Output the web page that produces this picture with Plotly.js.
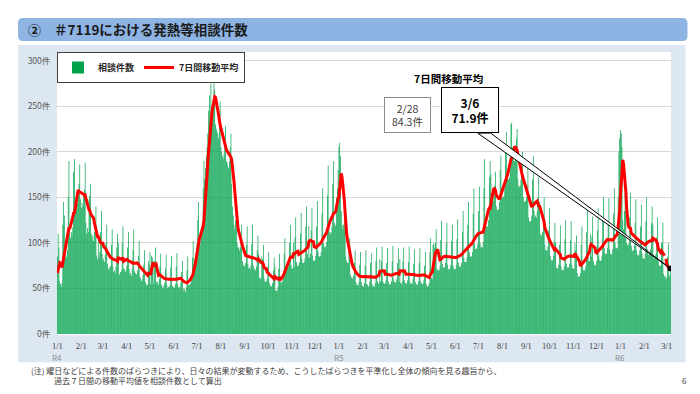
<!DOCTYPE html>
<html>
<head>
<meta charset="utf-8">
<script src="https://cdn.plot.ly/plotly-3.0.1.min.js"></script>
<style>
html,body{margin:0;padding:0;background:#ffffff;}
#chart{width:700px;height:394px;}
</style>
</head>
<body>
<div id="chart"></div>
<script>
// ---- data (daily consultation counts) ----
const startDate = '2022-01-01';
// 2021-12-26 .. 2021-12-31 (used only for the 7-day moving average)
const prevDays = [78,55,52,60,66,73];

const counts2022 = [
85,110,95,58,55,52,56,
120,145,130,85,88,84,92,
150,190,118,105,112,108,117,
178,192,150,140,147,143,158,
165,186,148,138,144,140,152,
158,188,122,110,116,112,148,
152,165,110,104,108,102,112,
120,140,86,82,108,84,90,
112,135,88,80,83,79,87,
100,120,77,72,70,73,75,
98,115,74,68,70,67,74,
95,110,100,66,65,68,70,
100,118,72,71,68,70,75,
95,112,71,65,67,64,72,
92,115,69,67,65,66,70,
86,102,63,61,58,60,65,
76,92,57,55,53,54,80,
76,90,55,86,84,80,55,
80,95,58,55,57,54,60,
74,88,54,51,53,50,56,
72,87,54,50,52,51,54,
73,86,53,52,50,51,55,
74,89,55,51,52,50,56,
68,80,50,47,49,46,51,
70,85,54,53,55,56,60,
84,102,76,82,86,92,100,
125,145,100,98,104,108,115,
160,190,170,182,195,205,220,
245,262,235,275,240,250,255,
300,268,230,225,222,220,215,
240,255,205,200,195,192,198,
215,228,190,188,185,182,190,
205,220,165,140,130,120,115,
125,140,100,95,95,92,95,
100,120,80,76,74,75,78,
98,118,77,72,73,71,76,
99,120,75,70,72,70,74,
92,108,88,62,60,62,85,
82,98,61,58,57,58,61,
75,90,56,53,52,53,56,
70,84,74,48,47,48,52,
72,88,58,55,57,58,62,
88,105,75,72,73,74,76,
100,120,76,72,72,100,74,
106,128,79,75,74,76,79,
110,133,83,78,78,79,83,
118,140,88,84,118,84,88,
114,138,86,80,81,80,86,
118,146,90,85,85,86,90,
132,160,100,96,95,96,101,
152,185,118,112,110,112,118,
165,190,122,118,120,150,160,
180];

const counts2023 = [
205,210,195,135,120,115,
120,135,115,85,80,78,78,
90,105,65,62,62,60,64,
78,92,57,54,54,53,57,
76,90,57,53,53,52,56,
75,92,55,54,52,53,58,
78,88,55,52,53,52,56,
80,95,58,55,56,82,58,
80,96,58,56,55,56,59,
78,94,58,55,54,55,58,
80,97,60,57,57,56,60,
78,94,58,82,56,55,58,
80,95,59,56,55,56,59,
79,96,58,55,56,55,60,
77,93,57,54,55,54,58,
78,94,58,56,55,55,59,
75,90,55,53,52,53,56,
90,105,62,60,98,100,95,
100,115,72,70,70,70,74,
103,124,77,73,73,73,78,
100,122,76,71,71,72,76,
102,120,75,72,71,71,76,
104,126,78,74,74,74,78,
112,135,84,79,79,79,84,
120,145,90,85,85,85,90,
132,160,99,93,94,93,99,
135,162,100,95,96,95,101,
160,192,125,118,118,118,125,
172,190,175,145,144,146,152,
163,178,140,136,136,137,145,
180,196,155,150,150,152,160,
204,222,176,170,170,172,200,
230,232,205,195,190,190,192,
215,225,170,162,162,163,170,
185,200,150,145,145,146,150,
162,185,128,124,123,124,130,
170,195,135,128,130,128,135,
150,172,145,110,108,108,112,
130,150,98,92,92,92,96,
114,138,86,81,81,81,86,
102,122,100,73,72,72,76,
98,119,74,70,70,70,74,
104,125,77,73,73,73,77,
103,124,76,72,72,72,100,
92,108,67,63,63,63,67,
98,118,74,70,70,70,74,
112,136,85,80,80,110,85,
107,129,80,76,75,76,80,
114,138,86,81,80,81,86,
125,150,94,88,88,88,94,
124,149,93,88,87,88,93,
132,160,100,95,94,94,150,
200,215];

const counts2024 = [
224,220,205,125,115,
135,155,135,100,98,97,100,
128,155,97,92,91,92,97,
122,148,92,87,86,87,92,
118,142,88,83,83,83,88,
124,150,93,87,87,88,93,
122,140,120,84,83,84,88,
106,128,80,75,75,75,100,
100,122,66,63,64,60,62,
85,100,65,63,68];

const monthTickDates = [
'2022-01-01','2022-02-01','2022-03-01','2022-04-01','2022-05-01','2022-06-01',
'2022-07-01','2022-08-01','2022-09-01','2022-10-01','2022-11-01','2022-12-01',
'2023-01-01','2023-02-01','2023-03-01','2023-04-01','2023-05-01','2023-06-01',
'2023-07-01','2023-08-01','2023-09-01','2023-10-01','2023-11-01','2023-12-01',
'2024-01-01','2024-02-01','2024-03-01'];
const monthTickLabels = [
'1/1','2/1','3/1','4/1','5/1','6/1','7/1','8/1','9/1','10/1','11/1','12/1',
'1/1','2/1','3/1','4/1','5/1','6/1','7/1','8/1','9/1','10/1','11/1','12/1',
'1/1','2/1','3/1'];
const eraDates = ['2022-01-01','2023-01-01','2024-01-01'];
const eraLabels = ['R4','R5','R6'];
const yTicks = [0,50,100,150,200,250,300];
const yTickLabels = ['0件','50件','100件','150件','200件','250件','300件'];

const markDateA = '2024-02-28';
const markDateB = '2024-03-06';
const calloutTitle = '7日間移動平均';
const calloutA = '2/28<br>84.3件';
const calloutB = '<b>3/6</b><br><b>71.9件</b>';
const chartTitleNum = '②';
const chartTitle = '＃7119における発熱等相談件数';
const note1 = '(注) 曜日などによる件数のばらつきにより、日々の結果が変動するため、こうしたばらつきを平準化し全体の傾向を見る趣旨から、';
const note2 = '過去７日間の移動平均値を相談件数として算出';
const pageNo = '6';

// ---- derived series ----
const counts = counts2022.concat(counts2023, counts2024);
const dates = counts.map((_, i) => new Date(Date.UTC(2022, 0, 1 + i)).toISOString().slice(0, 10));
const all = prevDays.concat(counts);
const ma = counts.map((_, i) => { let s = 0; for (let k = i; k < i + 7; k++) s += all[k]; return s / 7; });
const iA = dates.indexOf(markDateA), iB = dates.indexOf(markDateB);

// ---- geometry ----
const W = 700, H = 394, PL = 57, PR = 671.5, PT = 52, PB = 333.7;
const fx = px => (px - PL) / (PR - PL);
const fy = py => (PB - py) / (PB - PT);
const yMax = (PB - PT) / 0.91;
const xr0 = '2021-12-31 12:00', xr1 = '2024-03-06 12:00';
const ms = s => new Date(s.replace(' ', 'T') + (s.length > 10 ? ':00Z' : 'T00:00:00Z')).getTime();
const tipX = (ms(markDateB) - ms(xr0)) / (ms(xr1) - ms(xr0));
const tipY = ma[iB] / yMax;

const font = 'Noto Sans CJK JP, Noto Sans, sans-serif';

const traces = [
  { type: 'bar', x: dates, y: counts, name: '相談件数',
    marker: { color: '#00a24c', line: { width: 0 } }, hoverinfo: 'skip' },
  { type: 'scatter', mode: 'lines', x: dates, y: ma, name: '7日間移動平均',
    line: { color: '#ff0000', width: 3 }, hoverinfo: 'skip' },
  { type: 'scatter', mode: 'markers', x: [dates[iA]], y: [ma[iA]], showlegend: false,
    marker: { color: '#ffffff', size: 4 }, hoverinfo: 'skip' },
  { type: 'scatter', mode: 'markers', x: [dates[iB]], y: [ma[iB]], showlegend: false,
    marker: { color: '#000000', size: 6 }, hoverinfo: 'skip' }
];

// rounded title bar
const tb = { a: fx(18), b: fx(688), t: fy(18), u: fy(41) };
const rx = 5 / (PR - PL), ry = 5 / (PB - PT);
const titlePath = `M${tb.a+rx},${tb.t} L${tb.b-rx},${tb.t} Q${tb.b},${tb.t} ${tb.b},${tb.t-ry} L${tb.b},${tb.u+ry} Q${tb.b},${tb.u} ${tb.b-rx},${tb.u} L${tb.a+rx},${tb.u} Q${tb.a},${tb.u} ${tb.a},${tb.u+ry} L${tb.a},${tb.t-ry} Q${tb.a},${tb.t} ${tb.a+rx},${tb.t} Z`;
const tailPath = `M${fx(478)},${fy(133)} L${tipX},${tipY} L${fx(491)},${fy(133)} Z`;

const shapes = [
  { type: 'rect', xref: 'paper', yref: 'paper', x0: fx(18), x1: fx(686), y0: fy(362), y1: fy(45),
    fillcolor: '#dde7f1', line: { width: 0 }, layer: 'below' },
  { type: 'rect', xref: 'paper', yref: 'paper', x0: 0, x1: 1, y0: fy(335), y1: 1,
    fillcolor: '#ffffff', line: { width: 0 }, layer: 'below' },
  { type: 'path', xref: 'paper', yref: 'paper', path: titlePath,
    fillcolor: '#8db4e2', line: { width: 0 }, layer: 'below' },
  { type: 'path', xref: 'paper', yref: 'paper', path: tailPath,
    fillcolor: '#ffffff', line: { color: '#000000', width: 1 } }
];

const annotations = [
  { xref: 'paper', yref: 'paper', x: fx(26), y: fy(29.5), xanchor: 'left', yanchor: 'middle', showarrow: false,
    text: '<b>' + chartTitleNum + '</b>', font: { family: font, size: 13, color: '#1a1a1a' } },
  { xref: 'paper', yref: 'paper', x: fx(52), y: fy(29.5), xanchor: 'left', yanchor: 'middle', showarrow: false,
    text: '<b>' + chartTitle + '</b>', font: { family: font, size: 13.5, color: '#1a1a1a' } },
  { xref: 'paper', yref: 'paper', x: fx(449), y: fy(78), xanchor: 'center', yanchor: 'middle', showarrow: false,
    text: '<b>' + calloutTitle + '</b>', font: { family: font, size: 10.5, color: '#000000' } },
  { xref: 'paper', yref: 'paper', x: fx(407.5), y: fy(115), xanchor: 'center', yanchor: 'middle', showarrow: false,
    text: calloutA, font: { family: font, size: 10.5, color: '#404040' }, align: 'center',
    bgcolor: '#ffffff', bordercolor: '#8c8c8c', borderwidth: 1, borderpad: 0, width: 45, height: 34 },
  { xref: 'paper', yref: 'paper', x: fx(470), y: fy(110), xanchor: 'center', yanchor: 'middle', showarrow: false,
    text: calloutB, font: { family: font, size: 12, color: '#000000' }, align: 'center',
    bgcolor: '#ffffff', bordercolor: '#000000', borderwidth: 1, borderpad: 0, width: 56, height: 44 },
  { xref: 'paper', yref: 'paper', x: fx(29), y: fy(370), xanchor: 'left', yanchor: 'middle', showarrow: false,
    text: note1, font: { family: font, size: 8, color: '#404040' } },
  { xref: 'paper', yref: 'paper', x: fx(52), y: fy(380), xanchor: 'left', yanchor: 'middle', showarrow: false,
    text: note2, font: { family: font, size: 8, color: '#404040' } },
  { xref: 'paper', yref: 'paper', x: fx(690), y: fy(380), xanchor: 'right', yanchor: 'middle', showarrow: false,
    text: pageNo, font: { family: font, size: 8, color: '#404040' } }
];
eraDates.forEach((d, i) => annotations.push({
  xref: 'x', yref: 'paper', x: d, y: fy(357), xanchor: 'center', yanchor: 'middle', showarrow: false,
  text: eraLabels[i], font: { family: font, size: 8, color: '#8c8c8c' } }));

const layout = {
  width: W, height: H,
  margin: { l: PL, r: W - PR, t: PT, b: H - PB, pad: 0 },
  paper_bgcolor: '#ffffff', plot_bgcolor: 'rgba(0,0,0,0)',
  font: { family: font, color: '#404040' },
  bargap: 0.08,
  showlegend: true,
  legend: { x: 0, y: 1, xanchor: 'left', yanchor: 'top', orientation: 'h',
    bgcolor: '#ffffff', bordercolor: '#404040', borderwidth: 1,
    font: { family: font, size: 9, color: '#262626', weight: 'bold' },
    itemwidth: 30, tracegroupgap: 0 },
  xaxis: { type: 'date', range: [xr0, xr1], tickmode: 'array', tickvals: monthTickDates, ticktext: monthTickLabels,
    showgrid: false, zeroline: false, showline: false, ticks: 'outside', ticklen: 4, tickcolor: 'rgba(0,0,0,0)',
    tickfont: { family: 'Liberation Serif, ' + font, size: 8.5, color: '#404040' }, fixedrange: true },
  yaxis: { range: [0, yMax], tickmode: 'array', tickvals: yTicks, ticktext: yTickLabels,
    showgrid: true, gridcolor: '#d9d9d9', gridwidth: 1, zeroline: false, showline: false,
    ticks: 'outside', ticklen: 4, tickcolor: 'rgba(0,0,0,0)',
    tickfont: { family: font, size: 8.5, color: '#595959' }, fixedrange: true },
  shapes: shapes,
  annotations: annotations
};

Plotly.newPlot('chart', traces, layout, { displayModeBar: false, staticPlot: true });
</script>
</body>
</html>
